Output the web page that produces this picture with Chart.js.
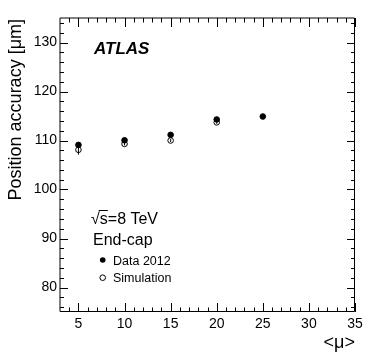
<!DOCTYPE html>
<html>
<head>
<meta charset="utf-8">
<script src="https://cdn.jsdelivr.net/npm/chart.js@4/dist/chart.umd.min.js"></script>
<style>
  html, body { margin: 0; padding: 0; background: #fff; }
  #wrap { width: 374px; height: 359px; }
</style>
</head>
<body>
<div id="wrap"><canvas id="c" width="374" height="359"></canvas></div>
<script>
// values
const mu = [5, 10, 15, 20, 25];
const dataVals = [109.1, 110.05, 111.15, 114.3, 114.9];
const simMu = [5, 10, 15, 20];
const simVals = [108.1, 109.3, 110.0, 113.7];
const simErr = [1.0, 0.3, 0.3, 0.3];
const xTicks = [5, 10, 15, 20, 25, 30, 35];
const yTicks = [80, 90, 100, 110, 120, 130];

const FONT = '"Liberation Sans", Arial, Helvetica, sans-serif';

// ROOT style frame with inward ticks on all sides + text
const rootFrame = {
  id: 'rootFrame',
  afterDatasetsDraw(chart) {
    const { ctx, chartArea: a, scales } = chart;
    const xs = scales.x, ys = scales.y;
    ctx.save();
    ctx.strokeStyle = '#000';
    ctx.lineWidth = 1;
    // top/left sit on whole pixels (softer, like the reference), bottom/right crisp
    ctx.beginPath();
    ctx.moveTo(a.left, a.bottom - 0.5); ctx.lineTo(a.left, a.top);
    ctx.lineTo(a.right - 0.5, a.top);
    ctx.moveTo(a.right - 0.5, a.top); ctx.lineTo(a.right - 0.5, a.bottom - 0.5);
    ctx.lineTo(a.left, a.bottom - 0.5);
    ctx.stroke();

    ctx.beginPath();
    for (let v = 4; v <= 35; v++) {
      const px = Math.round(xs.getPixelForValue(v)) + 0.5;
      const len = v % 5 === 0 ? 9 : 4.5;
      ctx.moveTo(px, a.bottom); ctx.lineTo(px, a.bottom - len);
      ctx.moveTo(px, a.top); ctx.lineTo(px, a.top + len);
    }
    for (let v = 76; v <= 134; v += 2) {
      const py = Math.round(ys.getPixelForValue(v)) + 0.5;
      const len = v % 10 === 0 ? 8 : 4;
      ctx.moveTo(a.left, py); ctx.lineTo(a.left + len, py);
      ctx.moveTo(a.right, py); ctx.lineTo(a.right - len, py);
    }
    ctx.stroke();

    // sim error bars
    ctx.beginPath();
    simMu.forEach((m, i) => {
      const px = xs.getPixelForValue(m);
      ctx.moveTo(px, ys.getPixelForValue(simVals[i] - simErr[i]));
      ctx.lineTo(px, ys.getPixelForValue(simVals[i] + simErr[i]));
    });
    ctx.stroke();

    ctx.fillStyle = '#000';
    ctx.textAlign = 'left';
    ctx.textBaseline = 'alphabetic';
    ctx.font = 'italic bold 17px ' + FONT;
    ctx.fillText('ATLAS', 94, 54);

    ctx.font = '16px ' + FONT;
    ctx.fillText('\u221As=8 TeV', 91, 223.5);
    const sx = 91 + ctx.measureText('\u221A').width;
    const sw = ctx.measureText('s').width;
    ctx.beginPath();
    ctx.moveTo(sx - 1, 210.5); ctx.lineTo(sx + sw, 210.5);
    ctx.stroke();
    ctx.fillText('End-cap', 93, 244.5);

    ctx.font = '12.5px ' + FONT;
    ctx.fillText('Data 2012', 113, 264.5);
    ctx.fillText('Simulation', 113, 282);
    ctx.beginPath();
    ctx.arc(102.7, 260, 2.8, 0, Math.PI * 2);
    ctx.fill();
    ctx.beginPath();
    ctx.arc(102.7, 277.7, 2.8, 0, Math.PI * 2);
    ctx.stroke();

    // axis titles
    ctx.font = '18px ' + FONT;
    ctx.textAlign = 'right';
    ctx.fillText('<\u03BC>', 355, 348);
    ctx.translate(21, 19);
    ctx.rotate(-Math.PI / 2);
    ctx.fillText('Position accuracy [\u03BCm]', 0, 0);
    ctx.restore();
  }
};

new Chart(document.getElementById('c'), {
  type: 'scatter',
  data: {
    datasets: [
      {
        label: 'Data 2012',
        data: mu.map((m, i) => ({ x: m, y: dataVals[i] })),
        pointStyle: 'circle',
        pointRadius: 2.8,
        backgroundColor: '#000',
        borderColor: '#000',
        borderWidth: 1
      },
      {
        label: 'Simulation',
        data: simMu.map((m, i) => ({ x: m, y: simVals[i] })),
        pointStyle: 'circle',
        pointRadius: 2.8,
        backgroundColor: '#fff',
        borderColor: '#000',
        borderWidth: 1
      }
    ]
  },
  options: {
    responsive: false,
    animation: false,
    events: [],
    layout: { padding: { top: 18, right: 19, left: 0, bottom: 0 } },
    plugins: { legend: { display: false }, tooltip: { enabled: false } },
    scales: {
      x: {
        type: 'linear',
        min: 3,
        max: 35,
        afterFit: (s) => { s.height = 47; },
        afterBuildTicks: (s) => { s.ticks = xTicks.map(v => ({ value: v })); },
        grid: { display: false, drawTicks: false },
        border: { display: false },
        ticks: { color: '#000', padding: 4, maxRotation: 0, font: { family: FONT, size: 14 } }
      },
      y: {
        type: 'linear',
        min: 75,
        max: 135,
        afterFit: (s) => { s.width = 60; },
        afterBuildTicks: (s) => { s.ticks = yTicks.map(v => ({ value: v })); },
        grid: { display: false, drawTicks: false },
        border: { display: false },
        ticks: { color: '#000', padding: 3, font: { family: FONT, size: 14 } }
      }
    }
  },
  plugins: [rootFrame]
});
</script>
</body>
</html>
